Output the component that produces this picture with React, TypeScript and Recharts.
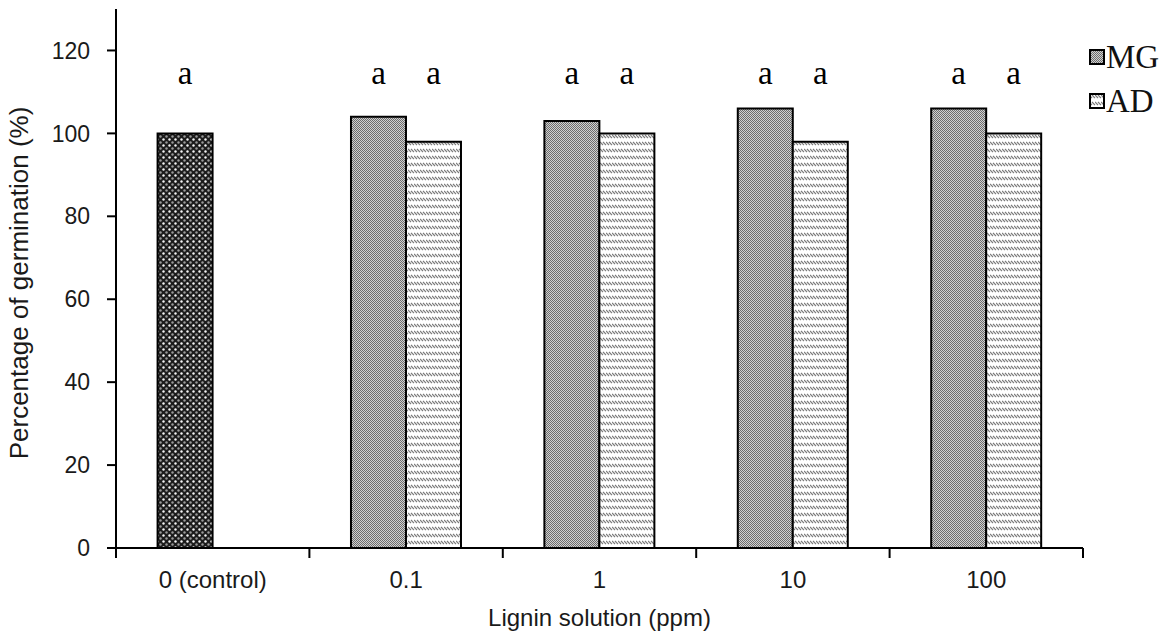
import React from "react";
import { BarChart, Bar, XAxis, YAxis, Cell, LabelList } from "recharts";

if (typeof document !== "undefined") document.body.style.margin = "0";

const categories = ["0 (control)", "0.1", "1", "10", "100"];
const mgValues = [100, 104, 103, 106, 106];
const adValues: (number | null)[] = [null, 98, 100, 98, 100];
const mgLetters = ["a", "a", "a", "a", "a"];
const adLetters: (string | null)[] = [null, "a", "a", "a", "a"];
const yTicks = [0, 20, 40, 60, 80, 100, 120];
const yMax = 130;
const letterLevel = 112;

const data = categories.map((c, i) => ({
  name: c,
  MG: mgValues[i],
  AD: adValues[i],
  mgLetter: mgLetters[i],
  adLetter: adLetters[i],
}));

const W = 1176;
const H = 642;
const LEFT = 116;
const RIGHT = 93;
const TOP = 9;
const XH = 94;
const PLOT_H = H - TOP - XH;
const HALF_BAND = (W - LEFT - RIGHT) / categories.length / 2;
const SANS = "'Liberation Sans', Arial, sans-serif";
const SERIF = "'Liberation Serif', 'Times New Roman', serif";

function XTick(props: any) {
  const { x, y, payload, index } = props;
  return (
    <g>
      <line x1={x - HALF_BAND} x2={x - HALF_BAND} y1={y} y2={y + 10} stroke="#000" strokeWidth={2} />
      {index === categories.length - 1 && (
        <line x1={x + HALF_BAND} x2={x + HALF_BAND} y1={y} y2={y + 10} stroke="#000" strokeWidth={2} />
      )}
      <text x={x} y={y + 40} textAnchor="middle" fontFamily={SANS} fontSize={24} fill="#1a1a1a">
        {payload.value}
      </text>
    </g>
  );
}

// letters sit at a fixed value level, converted with the y scale (bar bottom = 0)
function LetterLabel(props: any) {
  const { x, y, width, height, value } = props;
  if (!value) return null;
  const bottom = y + height;
  const ly = bottom - (letterLevel / yMax) * PLOT_H;
  return (
    <text x={x + width / 2} y={ly} textAnchor="middle" fontFamily={SERIF} fontSize={33} fill="#000">
      {value}
    </text>
  );
}

function LegendItem({ fill, label }: { fill: string; label: string }) {
  return (
    <div style={{ display: "flex", alignItems: "center", height: 44 }}>
      <svg width={16} height={16} style={{ marginRight: 1 }}>
        <rect x={1} y={1} width={14} height={14} fill={fill} stroke="#000" strokeWidth={2} />
      </svg>
      <span style={{ fontFamily: SERIF, fontSize: 33, color: "#111", lineHeight: "34px" }}>{label}</span>
    </div>
  );
}

export default function App() {
  return (
    <div style={{ position: "relative", width: W, height: H, background: "#fff" }}>
      <BarChart
        width={W}
        height={H}
        data={data}
        margin={{ top: TOP, right: RIGHT, left: 0, bottom: 0 }}
        barCategoryGap="21.5%"
        barGap={0}
      >
        <defs>
          <pattern id="ctrlPat" patternUnits="userSpaceOnUse" width={6} height={6}>
            <rect width={6} height={6} fill="#1c1c1c" />
            <circle cx={1.5} cy={1.5} r={1.2} fill="#f4f4f4" />
            <circle cx={4.5} cy={4.5} r={1.2} fill="#9a9a9a" />
          </pattern>
          <pattern id="mgPat" patternUnits="userSpaceOnUse" width={2} height={2}>
            <rect width={2} height={2} fill="#d0d0d0" />
            <rect x={0} y={0} width={1} height={1} fill="#6c6c6c" />
            <rect x={1} y={1} width={1} height={1} fill="#6c6c6c" />
          </pattern>
          <pattern id="adPat" patternUnits="userSpaceOnUse" width={6} height={7}>
            <rect width={6} height={7} fill="#fff" />
            <path d="M0,2 L3,5 M3,2 L6,5 M-3,2 L0,5" stroke="#7a7a7a" strokeWidth={1.2} />
          </pattern>
        </defs>
        <XAxis
          dataKey="name"
          height={XH}
          tickSize={0}
          tickMargin={0}
          tickLine={false}
          axisLine={{ stroke: "#000", strokeWidth: 2 }}
          tick={<XTick />}
          interval={0}
          label={{
            content: (p: any) => {
              const vb = p.viewBox || {};
              return (
                <text x={vb.x + vb.width / 2} y={vb.y + 78} textAnchor="middle" fontFamily={SANS} fontSize={24} fill="#1a1a1a">
                  Lignin solution (ppm)
                </text>
              );
            },
          }}
        />
        <YAxis
          width={LEFT}
          domain={[0, yMax]}
          ticks={yTicks}
          tickSize={9}
          tickMargin={17}
          tickLine={{ stroke: "#000", strokeWidth: 2 }}
          axisLine={{ stroke: "#000", strokeWidth: 2 }}
          tick={{ fontFamily: SANS, fontSize: 23, fill: "#1a1a1a" }}
          label={{
            content: () => (
              <text
                transform="translate(28,283) rotate(-90)"
                textAnchor="middle"
                fontFamily={SANS}
                fontSize={26}
                fill="#1a1a1a"
              >
                Percentage of germination (%)
              </text>
            ),
          }}
        />
        <Bar dataKey="MG" fill="url(#mgPat)" stroke="#000" strokeWidth={2} isAnimationActive={false}>
          {data.map((d, i) => (
            <Cell key={d.name} fill={i === 0 ? "url(#ctrlPat)" : "url(#mgPat)"} />
          ))}
          <LabelList dataKey="mgLetter" content={<LetterLabel />} />
        </Bar>
        <Bar dataKey="AD" fill="url(#adPat)" stroke="#000" strokeWidth={2} isAnimationActive={false}>
          <LabelList dataKey="adLetter" content={<LetterLabel />} />
        </Bar>
      </BarChart>
      <div style={{ position: "absolute", left: 1089, top: 35 }}>
        <LegendItem fill="url(#mgPat)" label="MG" />
        <LegendItem fill="url(#adPat)" label="AD" />
      </div>
    </div>
  );
}
